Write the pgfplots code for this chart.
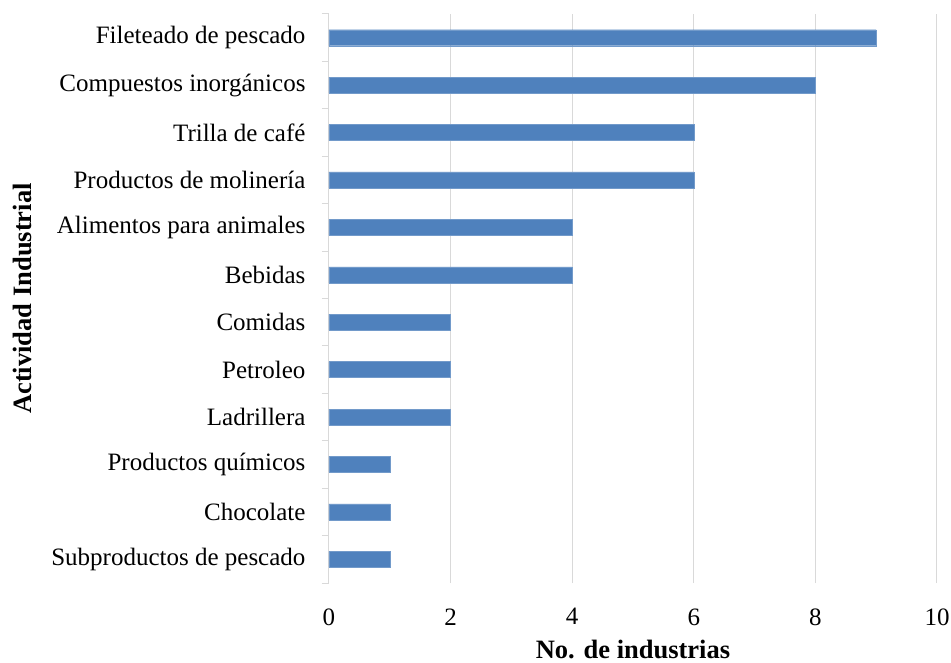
\documentclass[border=0pt]{standalone}
\usepackage{pgfplots}
\pgfplotsset{compat=1.18}
\usepackage{fontspec}
\setmainfont{Liberation Serif}
\definecolor{barblue}{HTML}{4F81BD}
\definecolor{gridgray}{HTML}{D9D9D9}
\begin{document}
\begin{tikzpicture}
\begin{axis}[
  name=ax,
  scale only axis,
  width=608pt, height=569pt,
  xmin=0, xmax=10,
  ymin=-0.5, ymax=11.5,
  xbar, bar width=16pt,
  xtick={0,2,...,10},
  ytick={0,...,11},
  yticklabels={Subproductos de pescado,Chocolate,Productos químicos,Ladrillera,Petroleo,Comidas,Bebidas,Alimentos para animales,Productos de molinería,Trilla de café,Compuestos inorgánicos,Fileteado de pescado},
  minor ytick={-0.5,0.5,...,11.5},
  major tick length=0pt,
  minor tick length=7pt,
  tick align=outside,
  minor tick style={gridgray, line width=1pt},
  xmajorgrids,
  major grid style={gridgray, line width=1pt},
  axis lines*=left,
  x axis line style={draw=none},
  y axis line style={gridgray, line width=1pt},
  ticklabel style={font=\fontsize{25}{27}\selectfont, black},
  /pgf/number format/assume math mode=true,
  xticklabel style={yshift=-22pt},
  yticklabel style={xshift=-20pt},
  xlabel={\textbf{No. de industrias}},
  ylabel={\textbf{Actividad Industrial}},
  label style={font=\fontsize{26.5}{28}\selectfont},
  xlabel style={at={(axis description cs:0.5,0)}, anchor=base, yshift=-75pt},
  ylabel style={at={(axis description cs:0,0.5)}, anchor=center, yshift=307pt},
]
\addplot[fill=barblue, draw=barblue!80!white] coordinates {
(1,0) (1,1) (1,2) (2,3) (2,4) (2,5) (4,6) (4,7) (6,8) (6,9) (8,10) (9,11)};
\end{axis}
\pgfresetboundingbox
\path[use as bounding box] ([xshift=-329pt,yshift=-79pt]ax.south west) rectangle ([xshift=14pt,yshift=14pt]ax.north east);
\end{tikzpicture}
\end{document}
